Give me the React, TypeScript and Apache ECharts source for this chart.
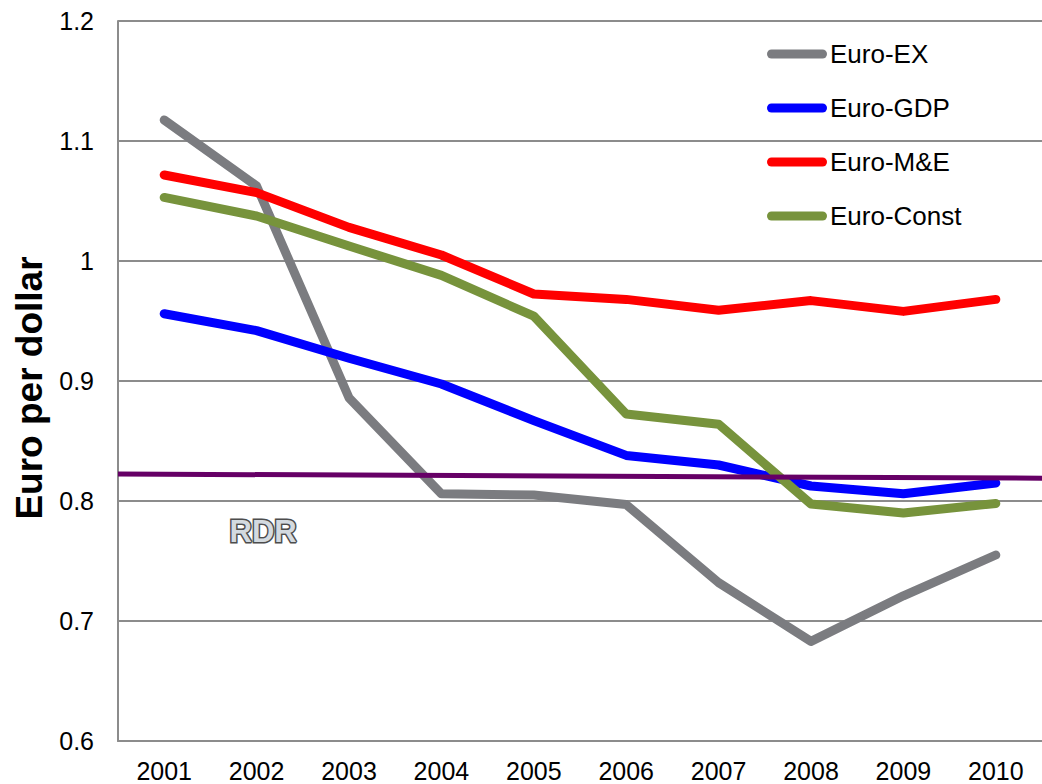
import React, { useEffect, useRef } from "react";
import * as echarts from "echarts";

const years = ["2001", "2002", "2003", "2004", "2005", "2006", "2007", "2008", "2009", "2010"];
const euroEX = [1.1175, 1.0625, 0.886, 0.806, 0.805, 0.797, 0.732, 0.683, 0.721, 0.755];
const euroGDP = [0.956, 0.942, 0.919, 0.8975, 0.867, 0.838, 0.83, 0.8125, 0.806, 0.815];
const euroME = [1.0717, 1.057, 1.028, 1.005, 0.9725, 0.968, 0.959, 0.967, 0.958, 0.968];
const euroConst = [1.053, 1.0375, 1.0125, 0.988, 0.954, 0.8725, 0.864, 0.7975, 0.79, 0.798];
const rdr = [0.8225, 0.819];
const yTicks = { min: 0.6, max: 1.2, interval: 0.1 };

const FONT = "Arial, 'Liberation Sans', sans-serif";
const capsule = "path://M4.5,0 H55.5 A4.5,4.5 0 0 1 55.5,9 H4.5 A4.5,4.5 0 0 1 4.5,0 Z";

export default function App() {
  const ref = useRef<HTMLDivElement>(null);
  useEffect(() => {
    if (!ref.current) return;
    const chart = echarts.init(ref.current, undefined, { renderer: "svg" });
    const mk = (name: string, data: number[], color: string) => ({
      name,
      type: "line",
      data,
      showSymbol: false,
      symbol: "none",
      lineStyle: { color, width: 9, cap: "round", join: "round" },
      itemStyle: { color },
      z: 2,
    });
    chart.setOption({
      animation: false,
      backgroundColor: "#fff",
      grid: { left: 118, right: -5, top: 21, bottom: 43, containLabel: false },
      legend: {
        orient: "vertical",
        left: 767,
        top: 41,
        padding: 0,
        itemWidth: 60,
        itemHeight: 9,
        itemGap: 28,
        icon: capsule,
        textStyle: { fontFamily: FONT, fontSize: 26, color: "#000", lineHeight: 26, padding: [0, 0, 0, -2] },
        data: ["Euro-EX", "Euro-GDP", "Euro-M&E", "Euro-Const"],
      },
      xAxis: [
        {
          type: "category",
          data: years,
          boundaryGap: true,
          axisLine: { show: true, lineStyle: { color: "#8c8c8c", width: 2 } },
          axisTick: { show: false },
          axisLabel: { fontFamily: FONT, fontSize: 25, color: "#000", margin: 17 },
          splitLine: { show: false },
        },
        {
          type: "value",
          min: 0,
          max: 1,
          show: false,
        },
      ],
      yAxis: {
        type: "value",
        min: yTicks.min,
        max: yTicks.max,
        interval: yTicks.interval,
        name: "Euro per dollar",
        nameLocation: "middle",
        nameGap: 70,
        nameTextStyle: {
          fontFamily: FONT,
          fontSize: 37,
          fontWeight: "bold",
          color: "#000",
          padding: [0, 14, 0, 0],
        },
        axisLine: { show: true, lineStyle: { color: "#8c8c8c", width: 2 } },
        axisTick: { show: false },
        axisLabel: {
          fontFamily: FONT,
          fontSize: 25,
          color: "#000",
          margin: 24,
          formatter: (v: number) => String(Math.round(v * 10) / 10),
        },
        splitLine: { show: true, lineStyle: { color: "#8c8c8c", width: 2 } },
      },
      series: [
        mk("Euro-EX", euroEX, "#7b7c80"),
        mk("Euro-GDP", euroGDP, "#0000ff"),
        mk("Euro-M&E", euroME, "#ff0000"),
        mk("Euro-Const", euroConst, "#77933c"),
        {
          name: "RDR",
          type: "line",
          xAxisIndex: 1,
          data: [[0, rdr[0]], [1, rdr[1]]],
          showSymbol: false,
          symbol: "none",
          lineStyle: { color: "#660066", width: 5 },
          z: 3,
        },
      ],
      graphic: [
        {
          type: "text",
          left: 228,
          top: 514,
          style: {
            text: "RDR",
            fontFamily: FONT,
            fontSize: 31,
            fontWeight: "bold",
            fill: "#d3dae0",
            stroke: "#4d4d4d",
            lineWidth: 3,
          },
        },
      ],
    });
    return () => chart.dispose();
  }, []);
  return <div ref={ref} style={{ width: 1042, height: 784, position: "absolute", left: 0, top: 0 }} />;
}
